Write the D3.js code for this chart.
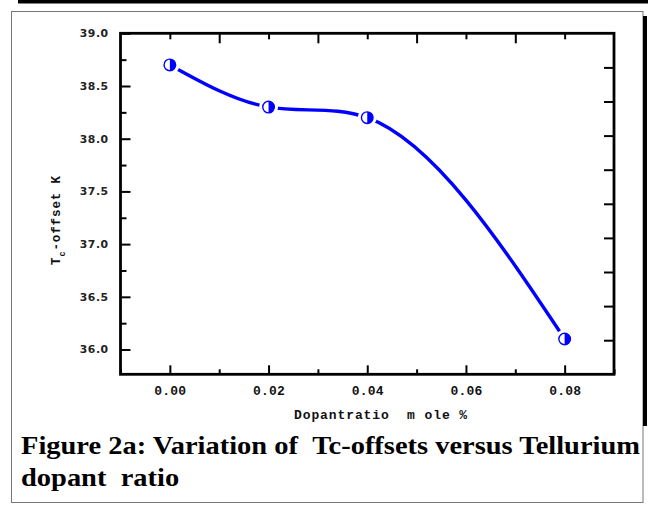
<!DOCTYPE html>
<html><head><meta charset="utf-8">
<script src="https://cdn.jsdelivr.net/npm/d3@7"></script>
<style>body{margin:0;background:#fff}svg{display:block}</style>
</head><body>
<svg id="c" width="648" height="505"></svg>
<script>
const dopant = [0.00, 0.02, 0.04, 0.08];
const tcOffset = [38.7, 38.3, 38.2, 36.1];
const xTickValues = [0.00, 0.02, 0.04, 0.06, 0.08];
const xTickLabels = ["0.00", "0.02", "0.04", "0.06", "0.08"];
const xMinorTicks = [-0.01, 0.01, 0.03, 0.05, 0.07, 0.09];
const xTopTicks = [0.00, 0.01, 0.02, 0.03, 0.04, 0.05, 0.06, 0.07, 0.08];
const yTickValues = [36.0, 36.5, 37.0, 37.5, 38.0, 38.5, 39.0];
const yTickLabels = ["36.0", "36.5", "37.0", "37.5", "38.0", "38.5", "39.0"];
const yMinorTicks = [36.25, 36.75, 37.25, 37.75, 38.25, 38.75];
const rightTicks = [1, 2, 3, 4, 5, 6, 7, 8, 9];
const xAxisTitle = "Dopantratio\u00a0 m ole %";
const yAxisTitle = ["T", "c", "-offset K"];
const captionLines = ["Figure 2a: Variation of \u00a0Tc-offsets versus Tellurium", "dopant \u00a0ratio"];

const svg = d3.select("#c");
const L = 120.5, R = 614, T = 33.3, B = 374.3;
const x = d3.scaleLinear().domain([-0.01, 0.09]).range([L, R]);
const y = d3.scaleLinear().domain([35.765, 39.0]).range([B, T]);
const yr = d3.scaleLinear().domain([0, 10]).range([B, T]);

// outer frame
svg.append("rect").attr("x", 11.5).attr("y", 11.5).attr("width", 631.5).attr("height", 491)
  .attr("fill", "none").attr("stroke", "#777").attr("stroke-width", 1);
svg.append("rect").attr("x", 18).attr("y", 0).attr("width", 630).attr("height", 3.5).attr("fill", "#000");
svg.append("rect").attr("x", 643).attr("y", 16).attr("width", 4).attr("height", 410).attr("fill", "#000");

function styleAxis(g) {
  g.select(".domain").remove();
  g.selectAll(".tick line").attr("stroke", "#000").attr("stroke-width", 2);
}

// left axis
svg.append("g").attr("transform", `translate(${L},0)`)
  .call(d3.axisLeft(y).tickValues(yTickValues).tickSize(-10).tickPadding(12)
    .tickFormat((d, i) => yTickLabels[i]))
  .call(styleAxis)
  .call(g => g.selectAll("text").attr("font-family", "DejaVu Sans").attr("font-weight", "bold")
    .attr("font-size", 10.8).attr("fill", "#222").attr("letter-spacing", 0.5));
svg.append("g").attr("transform", `translate(${L},0)`)
  .call(d3.axisLeft(y).tickValues(yMinorTicks).tickSize(-6).tickFormat(""))
  .call(styleAxis);

// right axis
svg.append("g").attr("transform", `translate(${R},0)`)
  .call(d3.axisRight(yr).tickValues(rightTicks).tickSize(-10).tickFormat(""))
  .call(styleAxis);

// bottom axis
svg.append("g").attr("transform", `translate(0,${B})`)
  .call(d3.axisBottom(x).tickValues(xTickValues).tickSize(-9).tickPadding(11.5)
    .tickFormat((d, i) => xTickLabels[i]))
  .call(styleAxis)
  .call(g => g.selectAll("text").attr("font-family", "Liberation Mono").attr("font-weight", "bold")
    .attr("font-size", 13).attr("fill", "#111").attr("letter-spacing", 0.2));
svg.append("g").attr("transform", `translate(0,${B})`)
  .call(d3.axisBottom(x).tickValues(xMinorTicks).tickSize(-5).tickFormat(""))
  .call(styleAxis);

// top axis
svg.append("g").attr("transform", `translate(0,${T})`)
  .call(d3.axisTop(x).tickValues(xTopTicks).tickSize(-6).tickFormat(""))
  .call(styleAxis)
  .call(g => g.selectAll(".tick line").attr("y2", (d, i) => i % 2 ? 10 : 6));

// plot frame
svg.append("rect").attr("x", L).attr("y", T).attr("width", R - L).attr("height", B - T)
  .attr("fill", "none").attr("stroke", "#000").attr("stroke-width", 2.8);

// natural cubic spline in x
function curveNaturalX(context) {
  let xs = [], ys = [];
  return {
    areaStart() {}, areaEnd() {},
    lineStart() { xs = []; ys = []; },
    point(px, py) { xs.push(+px); ys.push(+py); },
    lineEnd() {
      const n = xs.length;
      if (!n) return;
      context.moveTo(xs[0], ys[0]);
      if (n === 2) { context.lineTo(xs[1], ys[1]); return; }
      if (n < 2) return;
      const h = [];
      for (let i = 0; i < n - 1; i++) h.push(xs[i + 1] - xs[i]);
      const a = [], b = [], c = [], r = [];
      for (let i = 1; i < n - 1; i++) {
        a.push(h[i - 1]); b.push(2 * (h[i - 1] + h[i])); c.push(h[i]);
        r.push(6 * ((ys[i + 1] - ys[i]) / h[i] - (ys[i] - ys[i - 1]) / h[i - 1]));
      }
      const m = a.length;
      for (let i = 1; i < m; i++) { const w = a[i] / b[i - 1]; b[i] -= w * c[i - 1]; r[i] -= w * r[i - 1]; }
      const sol = new Array(m);
      sol[m - 1] = r[m - 1] / b[m - 1];
      for (let i = m - 2; i >= 0; i--) sol[i] = (r[i] - c[i] * sol[i + 1]) / b[i];
      const M = new Array(n).fill(0);
      for (let i = 0; i < m; i++) M[i + 1] = sol[i];
      for (let i = 0; i < n - 1; i++) {
        const s = (ys[i + 1] - ys[i]) / h[i];
        const d0 = s - h[i] * (2 * M[i] + M[i + 1]) / 6;
        const d1 = s + h[i] * (M[i] + 2 * M[i + 1]) / 6;
        context.bezierCurveTo(xs[i] + h[i] / 3, ys[i] + d0 * h[i] / 3,
          xs[i + 1] - h[i] / 3, ys[i + 1] - d1 * h[i] / 3, xs[i + 1], ys[i + 1]);
      }
    }
  };
}

const pts = dopant.map((d, i) => [d, tcOffset[i]]);
const line = d3.line().x(d => x(d[0])).y(d => y(d[1])).curve(curveNaturalX);
svg.append("path").datum(pts).attr("d", line).attr("fill", "none")
  .attr("stroke", "#0000ff").attr("stroke-width", 3.4);

// knockouts + half-filled markers
const mk = svg.append("g");
mk.selectAll("circle.ko").data(pts).join("circle").attr("class", "ko")
  .attr("cx", d => x(d[0])).attr("cy", d => y(d[1])).attr("r", 9.5).attr("fill", "#fff");
mk.selectAll("circle.m").data(pts).join("circle").attr("class", "m")
  .attr("cx", d => x(d[0])).attr("cy", d => y(d[1])).attr("r", 5.8)
  .attr("fill", "#fff").attr("stroke", "#0000ff").attr("stroke-width", 1.4);
const half = d3.arc().innerRadius(0).outerRadius(5.8).startAngle(0).endAngle(Math.PI);
mk.selectAll("path.h").data(pts).join("path").attr("class", "h")
  .attr("transform", d => `translate(${x(d[0])},${y(d[1])})`)
  .attr("d", half()).attr("fill", "#0000ff");

// axis titles
svg.append("text").attr("x", 381).attr("y", 419).attr("text-anchor", "middle")
  .attr("font-family", "Liberation Mono").attr("font-weight", "bold").attr("font-size", 13)
  .attr("letter-spacing", 0.9).attr("fill", "#111").text(xAxisTitle);

const yt = svg.append("text").attr("transform", "translate(60,220) rotate(-90)")
  .attr("text-anchor", "middle").attr("font-family", "Liberation Mono").attr("font-weight", "bold")
  .attr("font-size", 12.5).attr("letter-spacing", 0.9).attr("fill", "#111");
yt.append("tspan").text(yAxisTitle[0]);
yt.append("tspan").attr("font-size", 8.5).attr("dy", 5).text(yAxisTitle[1]);
yt.append("tspan").attr("dy", -5).text(yAxisTitle[2]);

// caption
const cap = svg.append("g").attr("font-family", "Liberation Serif").attr("font-weight", "bold")
  .attr("font-size", 25.5).attr("fill", "#000");
const capTexts = captionLines.map((t, i) =>
  cap.append("text").attr("x", 21).attr("y", 454 + i * 32).text(t));
const w0 = capTexts[0].node().getComputedTextLength();
const stretch = 619 / w0;
capTexts.forEach(t => {
  const w = t.node().getComputedTextLength();
  t.attr("textLength", w * stretch).attr("lengthAdjust", "spacingAndGlyphs");
});
</script>
</body></html>
